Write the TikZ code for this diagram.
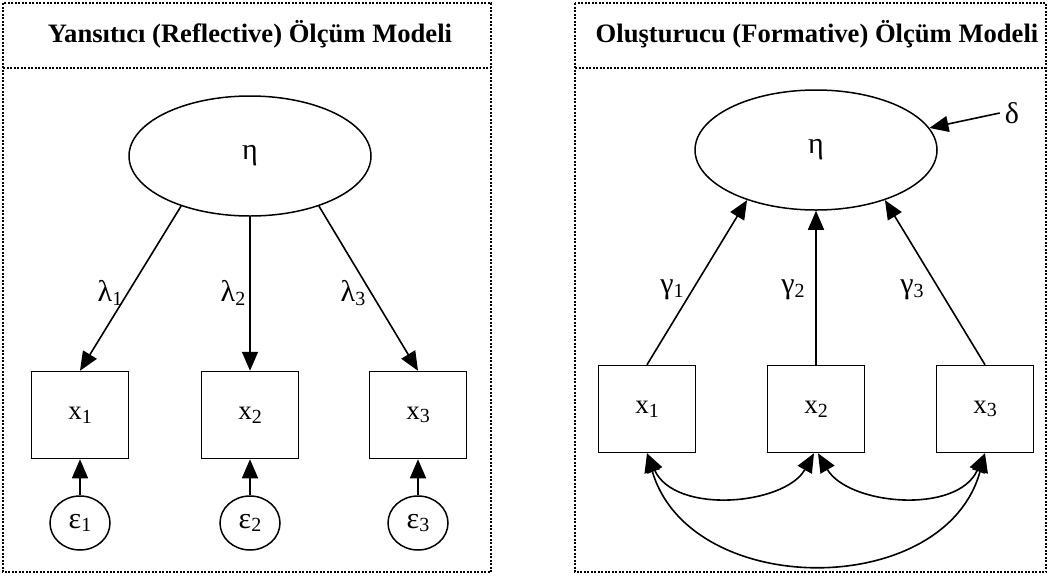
\documentclass[tikz,border=0pt]{standalone}
\usepackage{fontspec}
\setmainfont{Liberation Serif}
\usetikzlibrary{shapes.geometric,arrows.meta}
\newcommand{\sbs}[1]{\raisebox{-0.3ex}{\fontsize{20}{20}\selectfont #1}}
\newcommand{\gk}[1]{{\fontsize{30}{30}\selectfont #1}}
\tikzset{
  lv/.style={ellipse, draw, line width=1.5pt, minimum width=242pt, minimum height=120pt, inner sep=0pt, font=\fontsize{27}{27}\selectfont},
  obs/.style={rectangle, draw, line width=1.5pt, minimum width=97pt, minimum height=87pt, inner sep=0pt, font=\fontsize{27}{27}\selectfont},
  err/.style={ellipse, draw, line width=1.5pt, minimum width=60pt, minimum height=54pt, inner sep=0pt, font=\fontsize{27}{27}\selectfont},
  lbl/.style={inner sep=1pt, font=\fontsize{27}{27}\selectfont},
  arr/.style={-{Triangle[length=19pt,width=16pt]}, line width=1.6pt},
  darr/.style={{Triangle[length=19pt,width=16pt]}-{Triangle[length=19pt,width=16pt]}, line width=1.6pt},
  frame/.style={draw, line width=1.4pt, dash pattern=on 2pt off 1.5pt},
  ttl/.style={font=\bfseries\fontsize{26.6}{26.6}\selectfont}
}
\begin{document}
\begin{tikzpicture}[x=1pt,y=-1pt]
\useasboundingbox (0,0) rectangle (1049,576);
% frames
\draw[frame] (3,3) rectangle (491,572);
\draw[frame] (3,68) -- (491,68);
\draw[frame] (575,3) rectangle (1046,572);
\draw[frame] (575,68) -- (1046,68);
\node[ttl] (t1) at (250,34) {Yansıtıcı (Reflective) Ölçüm Modeli};
\node[ttl] (t2) at (817,34) {Oluşturucu (Formative) Ölçüm Modeli};
% left model
\node[lv] (etaL) at (250,156) {\gk{η}};
\node[obs] (xL1) at (80,415) {x\sbs{1}};
\node[obs] (xL2) at (250,415) {x\sbs{2}};
\node[obs] (xL3) at (418,415) {x\sbs{3}};
\node[err] (e1) at (80,523) {\gk{ε}\sbs{1}};
\node[err] (e2) at (250,523) {\gk{ε}\sbs{2}};
\node[err] (e3) at (418,523) {\gk{ε}\sbs{3}};
\draw[arr] (etaL.216) -- (xL1.north);
\draw[arr] (etaL.south) -- (xL2.north);
\draw[arr] (etaL.324) -- (xL3.north);
\draw[arr] (e1.north) -- (xL1.south);
\draw[arr] (e2.north) -- (xL2.south);
\draw[arr] (e3.north) -- (xL3.south);
\node[lbl] (l1) at (110,293) {\gk{λ}\sbs{1}};
\node[lbl] (l2) at (233,293) {\gk{λ}\sbs{2}};
\node[lbl] (l3) at (353,293) {\gk{λ}\sbs{3}};
% right model
\node[lv] (etaR) at (816,150) {\gk{η}};
\node[obs] (xR1) at (647,409) {x\sbs{1}};
\node[obs] (xR2) at (816,409) {x\sbs{2}};
\node[obs] (xR3) at (985,409) {x\sbs{3}};
\node[lbl, inner sep=5pt] (delta) at (1012,113) {\gk{δ}};
\draw[arr] (delta.west) -- (etaR.11);
\draw[arr] (xR1.north) -- (etaR.216);
\draw[arr] (xR2.north) -- (etaR.south);
\draw[arr] (xR3.north) -- (etaR.324);
\node[lbl] (g1) at (672,290) {\gk{γ}\sbs{1}};
\node[lbl] (g2) at (793,290) {\gk{γ}\sbs{2}};
\node[lbl] (g3) at (912,290) {\gk{γ}\sbs{3}};
\draw[darr] (xR1.south) .. controls (675,515) and (785,505) .. ([xshift=-2pt]xR2.south);
\draw[darr] ([xshift=2pt]xR2.south) .. controls (848,505) and (957,515) .. (xR3.south);
\draw[darr] (xR1.south) .. controls (690,600) and (945,600) .. (xR3.south);
\end{tikzpicture}
\end{document}
